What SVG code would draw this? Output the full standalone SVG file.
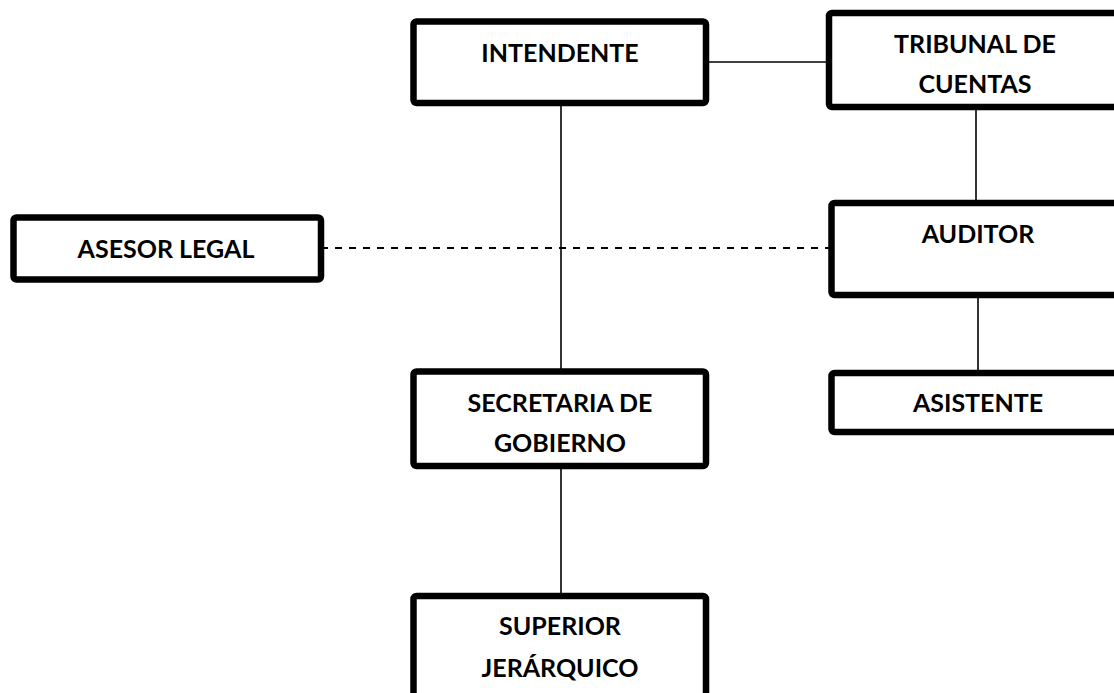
<svg xmlns="http://www.w3.org/2000/svg" width="1114" height="693" viewBox="0 0 1114 693">
<style>
.box{fill:#fff;stroke:#000;stroke-width:6.5}
.lbl{font-family:Lato,"Open Sans","Liberation Sans",sans-serif;font-weight:bold;font-size:25px;fill:#000;text-anchor:middle}
.con{stroke:#000;stroke-width:1.6;fill:none}
.dash{stroke-dasharray:7 7;stroke-width:1.8}
</style>
<rect width="1114" height="693" fill="#fff"/>
<g id="connectors">
<line class="con" x1="706" y1="62" x2="829" y2="62"/>
<line class="con" x1="561" y1="103" x2="561" y2="371"/>
<line class="con" x1="561" y1="466" x2="561" y2="596"/>
<line class="con" x1="976" y1="107" x2="976" y2="203"/>
<line class="con" x1="978" y1="295" x2="978" y2="373"/>
<line class="con dash" x1="321" y1="248" x2="831" y2="248"/>
</g>
<g id="intendente">
<rect class="box" x="413.5" y="21.5" width="292.5" height="81.5" rx="3"/>
<text class="lbl" x="560" y="62">INTENDENTE</text>
</g>
<g id="tribunal">
<rect class="box" x="829" y="13" width="300" height="94" rx="3"/>
<text class="lbl" x="975" y="53">TRIBUNAL DE</text>
<text class="lbl" x="975" y="93">CUENTAS</text>
</g>
<g id="asesor">
<rect class="box" x="13.5" y="217.5" width="307.5" height="62" rx="3"/>
<text class="lbl" x="166" y="258">ASESOR LEGAL</text>
</g>
<g id="auditor">
<rect class="box" x="831.5" y="203" width="300" height="92" rx="3"/>
<text class="lbl" x="978" y="243">AUDITOR</text>
</g>
<g id="asistente">
<rect class="box" x="831.5" y="373" width="300" height="59" rx="3"/>
<text class="lbl" x="978" y="412">ASISTENTE</text>
</g>
<g id="secretaria">
<rect class="box" x="413.5" y="371.5" width="292.5" height="94.5" rx="3"/>
<text class="lbl" x="560" y="412">SECRETARIA DE</text>
<text class="lbl" x="560" y="452">GOBIERNO</text>
</g>
<g id="superior">
<rect class="box" x="413.5" y="596" width="292.5" height="120" rx="3"/>
<text class="lbl" x="560" y="635">SUPERIOR</text>
<text class="lbl" x="560" y="677">JERÁRQUICO</text>
</g>
</svg>
